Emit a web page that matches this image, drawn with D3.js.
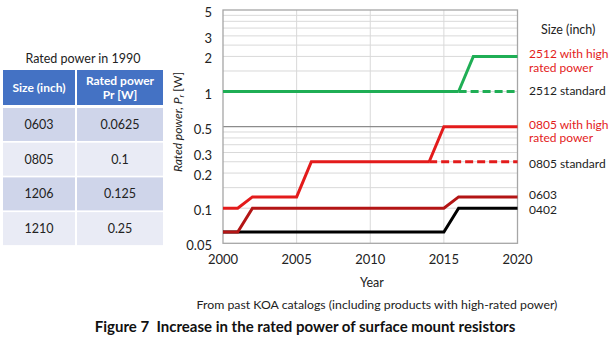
<!DOCTYPE html>
<html>
<head>
<meta charset="utf-8">
<script src="https://cdn.jsdelivr.net/npm/d3@7"></script>
<style>
  body { margin: 0; background: #fff; }
  svg { display: block; font-family: Lato, "Open Sans", sans-serif; }
</style>
</head>
<body>
<svg id="chart" width="613" height="352"></svg>
<script>
// table (1990 ratings)
const tableSizes = ["0603", "0805", "1206", "1210"];
const tableRatings = ["0.0625", "0.1", "0.125", "0.25"];

// chart series: [year, watts]
const s0402 = [[2000, 0.0625], [2015, 0.0625], [2016, 0.1], [2020, 0.1]];
const s0603 = [[2000, 0.0625], [2001, 0.0625], [2002, 0.1], [2015, 0.1], [2016, 0.125], [2020, 0.125]];
const s0805 = [[2000, 0.1], [2001, 0.1], [2002, 0.125], [2005, 0.125], [2006, 0.25], [2014, 0.25]];
const s0805std = [[2014, 0.25], [2020, 0.25]];
const s0805high = [[2014, 0.25], [2015, 0.5], [2020, 0.5]];
const s2512 = [[2000, 1], [2016, 1]];
const s2512std = [[2016, 1], [2020, 1]];
const s2512high = [[2016, 1], [2017, 2], [2020, 2]];

const yTicks = [0.05, 0.1, 0.2, 0.3, 0.5, 1, 2, 3, 5];
const yGrid = [0.1, 0.15, 0.2, 0.25, 0.3, 0.35, 0.4, 0.45, 1, 1.5, 2, 2.5, 3, 3.5, 4, 4.5];
const xTicks = [2000, 2005, 2010, 2015, 2020];

const green = "#1fae55", red = "#e31b1b", darkRed = "#b31515";

const svg = d3.select("#chart");

// ---- table ----
const tb = svg.append("g");
tb.append("text").attr("x", 83).attr("y", 63).attr("text-anchor", "middle")
  .attr("font-size", 12.5).attr("fill", "#222").text("Rated power in 1990");

const cols = [{x: 3, w: 72}, {x: 77, w: 86}];
tb.selectAll("rect.h").data(cols).join("rect")
  .attr("x", d => d.x).attr("y", 70).attr("width", d => d.w).attr("height", 35)
  .attr("fill", "#4472c4");
tb.append("text").attr("x", 39).attr("y", 92).attr("text-anchor", "middle")
  .attr("font-size", 12).attr("font-weight", "bold").attr("fill", "#fff").text("Size (inch)");
const hd = tb.append("text").attr("text-anchor", "middle")
  .attr("font-size", 12).attr("font-weight", "bold").attr("fill", "#fff");
hd.append("tspan").attr("x", 120).attr("y", 85).text("Rated power");
hd.append("tspan").attr("x", 120).attr("y", 99).text("Pr [W]");

tableSizes.forEach((s, i) => {
  const y0 = 108 + i * 34.7;
  const fill = i % 2 === 0 ? "#cfd5ea" : "#e9ebf5";
  cols.forEach(c => tb.append("rect").attr("x", c.x).attr("y", y0)
    .attr("width", c.w).attr("height", 33).attr("fill", fill));
  tb.append("text").attr("x", 39).attr("y", y0 + 21).attr("text-anchor", "middle")
    .attr("font-size", 12.5).attr("fill", "#222").text(s);
  tb.append("text").attr("x", 120).attr("y", y0 + 21).attr("text-anchor", "middle")
    .attr("font-size", 12.5).attr("fill", "#222").text(tableRatings[i]);
});

// ---- chart ----
const x = d3.scaleLinear().domain([2000, 2020]).range([223, 517.5]);
const y = d3.scaleLog().domain([0.05, 5]).range([243.3, 10]);

const grid = svg.append("g");
grid.selectAll("line.hy").data(yGrid).join("line")
  .attr("x1", x(2000)).attr("x2", x(2020))
  .attr("y1", d => y(d)).attr("y2", d => y(d))
  .attr("stroke", "#d9d9d9").attr("stroke-width", 1);
grid.selectAll("line.vx").data([2005, 2010, 2015]).join("line")
  .attr("x1", d => x(d)).attr("x2", d => x(d))
  .attr("y1", y(5)).attr("y2", y(0.05))
  .attr("stroke", "#d9d9d9").attr("stroke-width", 1);
grid.append("line").attr("x1", x(2000)).attr("x2", x(2020))
  .attr("y1", y(0.5)).attr("y2", y(0.5)).attr("stroke", "#8c8c8c").attr("stroke-width", 1.3);
grid.append("rect").attr("x", x(2000)).attr("y", y(5))
  .attr("width", x(2020) - x(2000)).attr("height", y(0.05) - y(5))
  .attr("fill", "none").attr("stroke", "#a6a6a6").attr("stroke-width", 1.3);

// y tick labels
svg.append("g").selectAll("text").data(yTicks).join("text")
  .attr("x", 212).attr("y", d => y(d) + 7).attr("text-anchor", "end")
  .attr("font-size", 13).attr("fill", "#222").text(d => d);

// x tick labels
svg.append("g").selectAll("text").data(xTicks).join("text")
  .attr("x", d => x(d)).attr("y", 264).attr("text-anchor", "middle")
  .attr("font-size", 13).attr("fill", "#222").text(d => d);

svg.append("text").attr("x", 372).attr("y", 287).attr("text-anchor", "middle")
  .attr("font-size", 12.5).attr("fill", "#222").text("Year");

// y title
const yt = svg.append("text").attr("transform", "translate(182,122) rotate(-90)")
  .attr("text-anchor", "middle").attr("font-size", 12).attr("fill", "#222");
yt.append("tspan").attr("font-style", "italic").text("Rated power, P");
yt.append("tspan").attr("font-style", "italic").attr("font-size", 8).attr("dy", 2).text("r");
yt.append("tspan").attr("dy", -2).text(" [W]");

// series
const line = d3.line().x(d => x(d[0])).y(d => y(d[1]));
const series = [
  {d: s0402, c: "#000"},
  {d: s0603, c: darkRed},
  {d: s0805, c: red},
  {d: s0805std, c: red, dash: "8,4"},
  {d: s0805high, c: red},
  {d: s2512, c: green},
  {d: s2512std, c: green, dash: "8,4"},
  {d: s2512high, c: green}
];
svg.append("g").selectAll("path").data(series).join("path")
  .attr("d", s => line(s.d)).attr("fill", "none")
  .attr("stroke", s => s.c).attr("stroke-width", 3)
  .attr("stroke-dasharray", s => s.dash || null);

// right labels
const lx = 529;
const labels = [
  {v: 2, t: ["2512 with high", "rated power"], c: red, dy: 2},
  {v: 1, t: ["2512 standard"], c: "#222", dy: 3},
  {v: 0.5, t: ["0805 with high", "rated power"], c: red, dy: 2},
  {v: 0.25, t: ["0805 standard"], c: "#222", dy: 6},
  {v: 0.125, t: ["0603"], c: "#222", dy: 2},
  {v: 0.1, t: ["0402"], c: "#222", dy: 6}
];
const lg = svg.append("g");
lg.append("text").attr("x", 541).attr("y", 34).attr("font-size", 12.5)
  .attr("fill", "#222").text("Size (inch)");
labels.forEach(l => {
  l.t.forEach((s, i) => {
    lg.append("text").attr("font-size", 12).attr("fill", l.c)
      .attr("x", lx).attr("y", y(l.v) + l.dy + i * 13.5).text(s);
  });
});

// captions
svg.append("text").attr("x", 377).attr("y", 309).attr("text-anchor", "middle")
  .attr("font-size", 12.3).attr("fill", "#222")
  .text("From past KOA catalogs (including products with high-rated power)");
svg.append("text").attr("x", 305).attr("y", 332).attr("text-anchor", "middle")
  .attr("font-size", 15).attr("font-weight", "bold").attr("fill", "#111")
  .attr("xml:space", "preserve")
  .text("Figure 7  Increase in the rated power of surface mount resistors");
</script>
</body>
</html>
